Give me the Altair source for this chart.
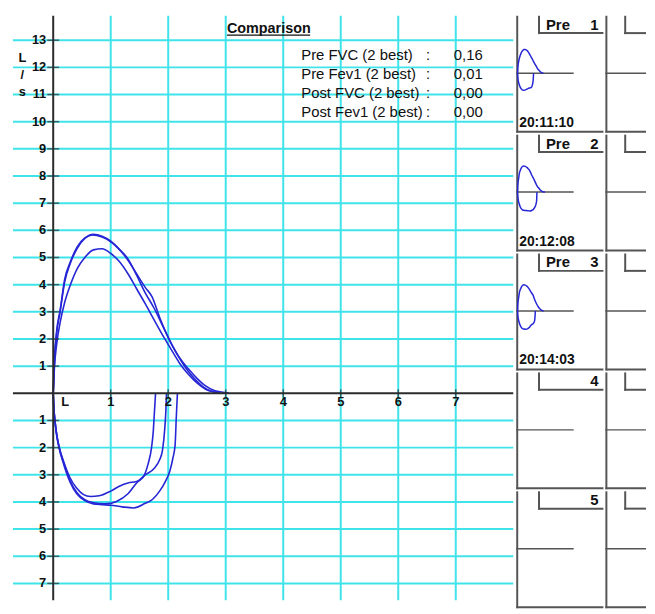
import altair as alt
import pandas as pd

FONT = "Liberation Sans"
CYAN = "#3fe3ea"
BLUE = "#2626d6"
AXIS = "#2b2b2b"
FRAME = "#555555"

# ---------------- data ----------------
# expiratory curves (volume L, flow L/s)
exp1_x = [0, 0.02, 0.06, 0.12, 0.2, 0.3, 0.42, 0.55, 0.7, 0.85, 1.0, 1.15, 1.3, 1.45,
          1.6, 1.75, 1.9, 2.05, 2.2, 2.35, 2.5, 2.65, 2.8, 2.88]
exp1_y = [0, 0.9, 1.8, 2.6, 3.35, 4.0, 4.6, 5.0, 5.28, 5.32, 5.15, 4.85, 4.4, 3.85,
          3.3, 2.72, 2.15, 1.62, 1.1, 0.7, 0.38, 0.15, 0.05, 0.02]
exp2_x = [0, 0.02, 0.06, 0.12, 0.2, 0.3, 0.42, 0.55, 0.68, 0.85, 1.0, 1.15, 1.3, 1.45,
          1.6, 1.75, 1.9, 2.05, 2.2, 2.35, 2.5, 2.65, 2.8, 2.95, 3.05]
exp2_y = [0, 1.2, 2.3, 3.05, 4.2, 4.85, 5.4, 5.72, 5.83, 5.75, 5.58, 5.3, 4.95, 4.35,
          3.7, 3.15, 2.5, 1.85, 1.3, 0.9, 0.55, 0.27, 0.1, 0.04, 0.02]
exp3_x = [0, 0.02, 0.06, 0.12, 0.2, 0.3, 0.42, 0.55, 0.7, 0.85, 1.0, 1.15, 1.3, 1.45,
          1.6, 1.72, 1.85, 2.0, 2.15, 2.3, 2.45, 2.6, 2.75, 2.9]
exp3_y = [0, 1.1, 2.2, 3.0, 4.1, 4.8, 5.35, 5.7, 5.85, 5.78, 5.6, 5.3, 4.9, 4.4,
          3.9, 3.55, 2.8, 2.05, 1.45, 0.95, 0.55, 0.25, 0.08, 0.02]
# inspiratory curves (drawn below the axis)
insp1_x = [0, 0.01, 0.03, 0.06, 0.1, 0.18, 0.29, 0.41, 0.52, 0.65, 0.8, 1.0, 1.15, 1.3,
           1.45, 1.56, 1.65, 1.71, 1.74, 1.76, 1.78]
insp1_y = [0, -0.5, -1.0, -1.5, -1.95, -2.5, -3.1, -3.5, -3.72, -3.8, -3.77, -3.6, -3.42, -3.3,
           -3.25, -3.1, -2.6, -2.0, -1.4, -0.7, 0]
insp2_x = [0, 0.01, 0.03, 0.06, 0.1, 0.18, 0.29, 0.41, 0.55, 0.7, 0.9, 1.1, 1.3, 1.45,
           1.6, 1.75, 1.85, 1.9, 1.94, 1.96, 1.97]
insp2_y = [0, -0.5, -1.0, -1.5, -1.95, -2.55, -3.2, -3.65, -3.92, -4.03, -4.07, -3.98, -3.7, -3.3,
           -3.0, -2.78, -2.45, -2.1, -1.3, -0.6, 0]
insp3_x = [0, 0.01, 0.03, 0.06, 0.1, 0.18, 0.29, 0.41, 0.55, 0.7, 0.85, 1.0, 1.2, 1.4,
           1.6, 1.73, 1.85, 1.95, 2.03, 2.08, 2.12, 2.14, 2.16]
insp3_y = [0, -0.5, -1.0, -1.55, -2.0, -2.6, -3.25, -3.7, -3.95, -4.07, -4.1, -4.12, -4.18, -4.22,
           -4.05, -3.9, -3.6, -3.25, -2.85, -2.4, -1.9, -0.9, 0]

trial_times = ["20:11:10", "20:12:08", "20:14:03"]
panel_phase = ["Pre", "Pre", "Pre", "", ""]
panel_numbers = ["1", "2", "3", "4", "5"]

x_grid = [1, 2, 3, 4, 5, 6, 7]
y_grid = [-7, -6, -5, -4, -3, -2, -1, 1, 2, 3, 4, 5, 6, 7, 8, 9, 10, 11, 12, 13]
x_tick_vals = [1, 2, 3, 4, 5, 6, 7]
x_tick_text = ["1", "2", "3", "4", "5", "6", "7"]
y_tick_vals = [-7, -6, -5, -4, -3, -2, -1, 1, 2, 3, 4, 5, 6, 7, 8, 9, 10, 11, 12, 13]
y_tick_text = ["7", "6", "5", "4", "3", "2", "1", "1", "2", "3", "4", "5", "6", "7", "8",
               "9", "10", "11", "12", "13"]

title_text = "Comparison"
cmp_labels = ["Pre FVC (2 best)", "Pre Fev1 (2 best)", "Post FVC (2 best)", "Post Fev1 (2 best)"]
cmp_values = ["0,16", "0,01", "0,00", "0,00"]

# ---------------- tables ----------------
curves = [(exp1_x, exp1_y, insp1_x, insp1_y),
          (exp2_x, exp2_y, insp3_x, insp3_y),
          (exp3_x, exp3_y, insp2_x, insp2_y)]
rows = []
for t, (ex, ey, ix, iy) in enumerate(curves, start=1):
    for k, (a, b) in enumerate(zip(ex, ey)):
        rows.append({"trial": t, "key": f"{t}e", "i": k, "vol": a, "flow": b})
    for k, (a, b) in enumerate(zip(ix, iy)):
        rows.append({"trial": t, "key": f"{t}i", "i": k, "vol": a, "flow": b})
loops = pd.DataFrame(rows)

xg = pd.DataFrame({"v": x_grid})
yg = pd.DataFrame({"v": y_grid})
xt = pd.DataFrame({"v": x_tick_vals, "t": x_tick_text})
yt = pd.DataFrame({"v": y_tick_vals, "t": y_tick_text})
one = pd.DataFrame({"k": [0]})

# ---------------- main plot ----------------
W, H = 505, 590
xs = alt.Scale(domain=[-0.7, 8.0], nice=False, zero=False)
ys = alt.Scale(domain=[-7.62, 13.9], nice=False, zero=False)

vgrid = alt.Chart(xg).mark_rule(color=CYAN, strokeWidth=2).encode(
    x=alt.X("v:Q", scale=xs, axis=None))
hgrid = alt.Chart(yg).mark_rule(color=CYAN, strokeWidth=2).encode(
    y=alt.Y("v:Q", scale=ys, axis=None))
xaxis = alt.Chart(one).mark_rule(color=AXIS, strokeWidth=2).encode(
    y=alt.YDatum(0, scale=ys, axis=None))
yaxis = alt.Chart(one).mark_rule(color=AXIS, strokeWidth=2).encode(
    x=alt.XDatum(0, scale=xs, axis=None))
yticks = alt.Chart(yt).mark_tick(orient="horizontal", size=12, thickness=1.5, color=AXIS).encode(
    x=alt.XDatum(0, scale=xs, axis=None), y=alt.Y("v:Q", scale=ys, axis=None))
ylabels = alt.Chart(yt).mark_text(align="right", baseline="middle", dx=-7, fontSize=13,
                                  fontWeight="bold", color="#111").encode(
    x=alt.XDatum(0, scale=xs, axis=None), y=alt.Y("v:Q", scale=ys, axis=None), text="t:N")
xticks = alt.Chart(xt).mark_tick(orient="vertical", size=8, thickness=1.5, color=AXIS).encode(
    x=alt.X("v:Q", scale=xs, axis=None), y=alt.YDatum(0, scale=ys, axis=None))
xlabels = alt.Chart(xt).mark_text(align="center", baseline="middle", dy=9, fontSize=13,
                                  fontWeight="bold", color="#111").encode(
    x=alt.X("v:Q", scale=xs, axis=None), y=alt.YDatum(0, scale=ys, axis=None), text="t:N")
lzero = alt.Chart(one).mark_text(align="center", baseline="middle", dx=12, dy=9, fontSize=13,
                                 fontWeight="bold", color="#111").encode(
    x=alt.XDatum(0, scale=xs, axis=None), y=alt.YDatum(0, scale=ys, axis=None),
    text=alt.value("L"))
unit = alt.Chart(one).mark_text(align="center", baseline="top", lineBreak="\n", lineHeight=17,
                                fontSize=13, fontWeight="bold", color="#111").encode(
    x=alt.value(9.5), y=alt.value(37), text=alt.value("L\n/\ns"))

lines = alt.Chart(loops).mark_line(color=BLUE, strokeWidth=1.6, interpolate="monotone").encode(
    x=alt.X("vol:Q", scale=xs, axis=None), y=alt.Y("flow:Q", scale=ys, axis=None),
    detail="key:N", order="i:Q")

title = alt.Chart(one).mark_text(align="left", baseline="alphabetic", fontSize=14.5,
                                 fontWeight="bold", color="#111").encode(
    x=alt.value(216), y=alt.value(17), text=alt.value(title_text))
underline = alt.Chart(one).mark_rule(color="#111", strokeWidth=1.3).encode(
    x=alt.value(216), x2=alt.value(300), y=alt.value(19.5))

cmp_layers = []
for k, (lab, val) in enumerate(zip(cmp_labels, cmp_values)):
    yy = 40 + 18.9 * k
    for txt, xx in ((lab, 291), (":", 417), (val, 445)):
        cmp_layers.append(alt.Chart(one).mark_text(align="left", baseline="middle", fontSize=15,
                                                   color="#111").encode(
            x=alt.value(xx), y=alt.value(yy), text=alt.value(txt)))

main = alt.layer(vgrid, hgrid, lines, xaxis, yaxis, yticks, ylabels, xticks, xlabels, lzero,
                 unit, title, underline, *cmp_layers).properties(width=W, height=H)

# ---------------- side panels ----------------
CH = 118
C1W, C2W = 88, 41
mxs = alt.Scale(domain=[-0.15, 9.55], nice=False, zero=False)
mys = alt.Scale(domain=[-13.27, 12.83], nice=False, zero=False)


def frame(w, h, bx):
    r = dict(color=FRAME, strokeWidth=2)
    return [
        alt.Chart(one).mark_rule(**r).encode(x=alt.value(1), y=alt.value(0), y2=alt.value(h)),
        alt.Chart(one).mark_rule(**r).encode(x=alt.value(0), x2=alt.value(w), y=alt.value(h - 1)),
        alt.Chart(one).mark_rule(**r).encode(x=alt.value(bx), y=alt.value(0), y2=alt.value(18.5)),
        alt.Chart(one).mark_rule(**r).encode(x=alt.value(bx - 1), x2=alt.value(w), y=alt.value(17.5)),
    ]


def cell1(i):
    layers = frame(C1W, CH, 23)
    layers.append(alt.Chart(one).mark_rule(color=FRAME, strokeWidth=1.5).encode(
        x=alt.value(0), x2=alt.value(58), y=alt.YDatum(0, scale=mys, axis=None)))
    if i < 3:
        layers.append(alt.Chart(loops).transform_filter(alt.datum.trial == i + 1)
                      .mark_line(color=BLUE, strokeWidth=1.5, interpolate="monotone").encode(
            x=alt.X("vol:Q", scale=mxs, axis=None), y=alt.Y("flow:Q", scale=mys, axis=None),
            detail="key:N", order="i:Q"))
        layers.append(alt.Chart(one).mark_text(align="left", baseline="alphabetic", fontSize=14,
                                               fontWeight="bold", color="#111").encode(
            x=alt.value(3), y=alt.value(112), text=alt.value(trial_times[i])))
    if panel_phase[i]:
        layers.append(alt.Chart(one).mark_text(align="left", baseline="alphabetic", fontSize=15,
                                               fontWeight="bold", color="#111").encode(
            x=alt.value(30), y=alt.value(14), text=alt.value(panel_phase[i])))
    layers.append(alt.Chart(one).mark_text(align="right", baseline="alphabetic", fontSize=15,
                                           fontWeight="bold", color="#111").encode(
        x=alt.value(83), y=alt.value(14), text=alt.value(panel_numbers[i])))
    return alt.layer(*layers).properties(width=C1W, height=CH)


def cell2(i):
    layers = frame(C2W, CH, 20)
    layers.append(alt.Chart(one).mark_rule(color=FRAME, strokeWidth=1.5).encode(
        x=alt.value(0), x2=alt.value(C2W), y=alt.YDatum(0, scale=mys, axis=None)))
    return alt.layer(*layers).properties(width=C2W, height=CH)


side = alt.vconcat(*[alt.hconcat(cell1(i), cell2(i), spacing=0) for i in range(5)],
                   spacing=0)

chart = alt.hconcat(main, side, spacing=0).properties(
    padding={"left": 4, "top": 4, "right": 0, "bottom": 0}
).configure(font=FONT).configure_view(strokeWidth=0)

chart.save("out.html", embed_options={"renderer": "svg", "actions": False})
